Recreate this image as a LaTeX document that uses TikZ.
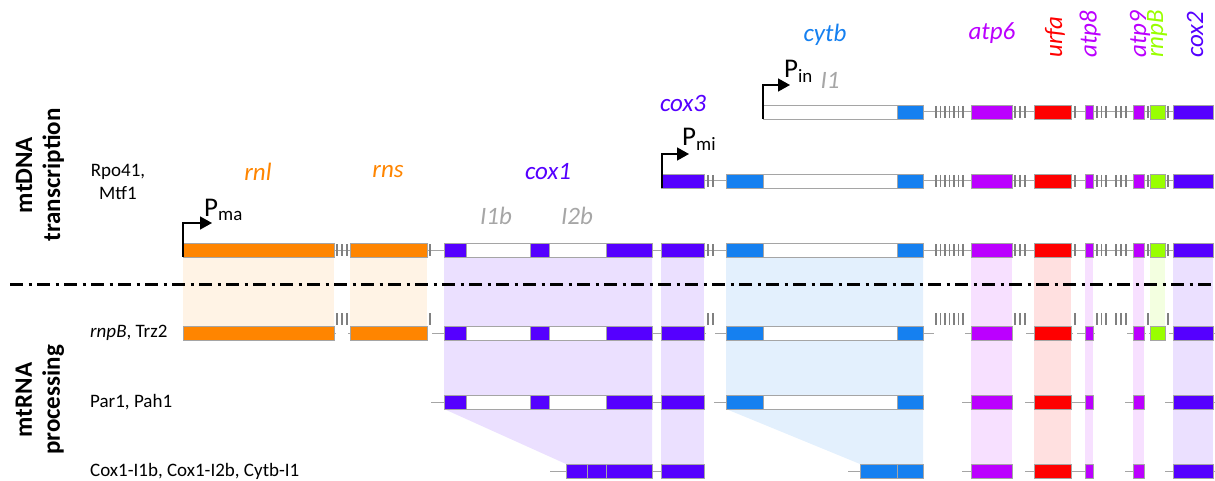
\documentclass[tikz,border=0pt]{standalone}
\usepackage{fontspec}
\setmainfont{Carlito}
\usepackage{xcolor}
\usepackage{tikz}
\usetikzlibrary{arrows.meta}

\definecolor{rrnaorange}{RGB}{255,133,0}
\definecolor{coxviolet}{RGB}{85,0,255}
\definecolor{cytbblue}{RGB}{21,128,240}
\definecolor{atpmagenta}{RGB}{187,0,255}
\definecolor{urfared}{RGB}{255,0,0}
\definecolor{rnpbgreen}{RGB}{153,255,0}
\definecolor{edgegray}{RGB}{165,165,165}
\definecolor{markgray}{RGB}{128,128,128}
\definecolor{introngray}{RGB}{166,166,166}

\begin{document}
\begin{tikzpicture}[x=1pt, y=-1pt,
    exon/.style={draw=edgegray, line width=0.8pt},
    intron/.style={draw=edgegray, fill=white, line width=0.8pt},
    backbone/.style={draw=edgegray, line width=1pt},
    cutmark/.style={draw=markgray, line width=1.8pt},
    separator/.style={line width=3pt, dash pattern=on 13pt off 5.5pt on 3pt off 5.5pt},
    promoter/.style={line width=1.6pt, -{Triangle[length=12pt, width=13pt]}},
    genename/.style={font=\fontsize{25}{30}\selectfont\itshape, inner sep=0pt},
    intronname/.style={genename, text=introngray},
    promname/.style={font=\fontsize{27}{30}\selectfont, inner sep=0pt, anchor=base west},
    factor/.style={font=\fontsize{19}{23}\selectfont, inner sep=0pt, align=center},
    stage/.style={font=\fontsize{25}{28}\selectfont\bfseries, inner sep=0pt, align=center, rotate=90}]

    \useasboundingbox (0,0) rectangle (1215,481);

    % The shaded bands
    \fill[rrnaorange!10] (183,257) rectangle (334,326);
    \fill[rrnaorange!10] (350,257) rectangle (427,326);
    \fill[coxviolet!12] (444,257) -- (652,257) -- (652,464) -- (566,464) -- (444,409) -- cycle;
    \fill[coxviolet!12] (661,257) rectangle (704,464);
    \fill[cytbblue!12] (726,257) -- (923,257) -- (923,464) -- (860,464) -- (726,409) -- cycle;
    \fill[atpmagenta!12] (971,257) rectangle (1012,464);
    \fill[urfared!12] (1034,257) rectangle (1071,464);
    \fill[atpmagenta!12] (1085,257) rectangle (1093,464);
    \fill[atpmagenta!12] (1133,257) rectangle (1144,464);
    \fill[rnpbgreen!12] (1150,257) rectangle (1165,326);
    \fill[coxviolet!12] (1173,257) rectangle (1213,464);

    % The separator
    \draw[separator] (10,284) -- (1215,284);

    % Backbones, rows A to C
    \draw[backbone] (763,112) -- (1213,112);
    \draw[backbone] (661,181) -- (1213,181);
    \draw[backbone] (183,250) -- (1213,250);
    % Backbone pieces, row D
    \foreach \a/\b in {183/336, 348/428, 432/706, 715/934, 965/1013, 1026/1073,
                       1077/1095, 1127/1146, 1149/1166, 1169/1215}
        \draw[backbone] (\a,333) -- (\b,333);
    % Backbone pieces, rows E and F
    \foreach \a/\b in {431/704, 714/923, 962/1012, 1025/1093, 1125/1144, 1165/1215}
        \draw[backbone] (\a,402) -- (\b,402);
    \foreach \a/\b in {550/704, 848/923, 962/1012, 1025/1093, 1125/1144, 1165/1215}
        \draw[backbone] (\a,471) -- (\b,471);

    % Cut marks on the transcripts
    \foreach \y in {112,181,250}
        \foreach \x in {936,940.5,945,949.5,954,958.5,963,1015,1020,1025,1075,
                        1097,1101.5,1106,1116,1121,1126,1148,1168}
            \draw[cutmark] (\x,\y-6) -- (\x,\y+6);
    \foreach \y in {181,250}
        \foreach \x in {708,713}
            \draw[cutmark] (\x,\y-6) -- (\x,\y+6);
    \foreach \x in {337,342,347,430}
        \draw[cutmark] (\x,244) -- (\x,256);
    % Lifted cut marks, row D
    \foreach \x in {337,342,347,430,708,713,936,940.5,945,949.5,954,958.5,963,
                    1015,1020,1025,1075,1097,1101.5,1106,1116,1121,1126,1148,1168}
        \draw[cutmark] (\x,313) -- (\x,325);

    % Right hand genes
    \foreach \y in {112,181,250,333,402,471}
        \foreach \a/\b/\c in {971/1012/atpmagenta, 1034/1071/urfared, 1085/1093/atpmagenta,
                              1133/1144/atpmagenta, 1173/1213/coxviolet}
            \draw[exon, fill=\c] (\a,\y-7) rectangle (\b,\y+7);
    \foreach \y in {112,181,250,333}
        \draw[exon, fill=rnpbgreen] (1150,\y-7) rectangle (1165,\y+7);

    % cytb
    \foreach \y in {181,250,333,402} {
        \draw[exon, fill=cytbblue] (726,\y-7) rectangle (763,\y+7);
        \draw[intron] (763,\y-7) rectangle (897,\y+7);
        \draw[exon, fill=cytbblue] (897,\y-7) rectangle (923,\y+7);
    }
    \draw[intron] (763,105) rectangle (897,119);
    \draw[exon, fill=cytbblue] (897,105) rectangle (923,119);
    \draw[exon, fill=cytbblue] (860,464) rectangle (897,478);
    \draw[exon, fill=cytbblue] (897,464) rectangle (923,478);

    % cox3
    \foreach \y in {181,250,333,402,471}
        \draw[exon, fill=coxviolet] (661,\y-7) rectangle (704,\y+7);

    % cox1
    \foreach \y in {250,333,402} {
        \draw[exon, fill=coxviolet] (444,\y-7) rectangle (466,\y+7);
        \draw[intron] (466,\y-7) rectangle (530,\y+7);
        \draw[exon, fill=coxviolet] (530,\y-7) rectangle (549,\y+7);
        \draw[intron] (549,\y-7) rectangle (606,\y+7);
        \draw[exon, fill=coxviolet] (606,\y-7) rectangle (652,\y+7);
    }
    \draw[exon, fill=coxviolet] (566,464) rectangle (587,478);
    \draw[exon, fill=coxviolet] (587,464) rectangle (606,478);
    \draw[exon, fill=coxviolet] (606,464) rectangle (652,478);

    % rnl and rns
    \foreach \y in {250,333} {
        \draw[exon, fill=rrnaorange] (183,\y-7) rectangle (334,\y+7);
        \draw[exon, fill=rrnaorange] (350,\y-7) rectangle (427,\y+7);
    }

    % Promoters
    \coordinate (pma-base) at (183,257);
    \coordinate (pma-tip) at (212,223);
    \coordinate (pmi-base) at (662,188);
    \coordinate (pmi-tip) at (689,154);
    \coordinate (pin-base) at (763,119);
    \coordinate (pin-tip) at (790,85);
    \draw[promoter] (pma-base) |- (pma-tip);
    \draw[promoter] (pmi-base) |- (pmi-tip);
    \draw[promoter] (pin-base) |- (pin-tip);
    \draw (204,217) node[promname] (pma) {P\textsubscript{ma}};
    \draw (682,146) node[promname] (pmi) {P\textsubscript{mi}};
    \draw (784,78) node[promname] (pin) {P\textsubscript{in}};

    % Gene words
    \draw (258,172) node[genename, text=rrnaorange] (lbl-rnl) {rnl};
    \draw (388,172) node[genename, text=rrnaorange] (lbl-rns) {rns};
    \draw (548,172) node[genename, text=coxviolet] (lbl-cox1) {cox1};
    \draw (496,216) node[intronname] (lbl-i1b) {I1b};
    \draw (577,216) node[intronname] (lbl-i2b) {I2b};
    \draw (683,103) node[genename, text=coxviolet] (lbl-cox3) {cox3};
    \draw (825,35) node[genename, text=cytbblue] (lbl-cytb) {cytb};
    \draw (830,80) node[intronname] (lbl-i1) {I1};
    \draw (992,33) node[genename, text=atpmagenta] (lbl-atp6) {atp6};
    \draw (1055,58) node[genename, rotate=90, anchor=west, text=urfared] (lbl-urfa) {urfa};
    \draw (1090,58) node[genename, rotate=90, anchor=west, text=atpmagenta] (lbl-atp8) {atp8};
    \draw (1140,58) node[genename, rotate=90, anchor=west, text=atpmagenta] (lbl-atp9) {atp9};
    \draw (1157,58) node[genename, rotate=90, anchor=west, text=rnpbgreen] (lbl-rnpb) {rnpB};
    \draw (1195,58) node[genename, rotate=90, anchor=west, text=coxviolet] (lbl-cox2) {cox2};

    % Factors
    \draw (118,182) node[factor] (fac-rpo) {Rpo41,\\Mtf1};
    \draw (90,333) node[factor, anchor=west] (fac-rnpb) {\textit{rnpB}, Trz2};
    \draw (90,402) node[factor, anchor=west] (fac-par) {Par1, Pah1};
    \draw (90,471) node[factor, anchor=west] (fac-cox) {Cox1-I1b, Cox1-I2b, Cytb-I1};

    % Stages
    \draw (40,175) node[stage] (stage-dna) {mtDNA\\transcription};
    \draw (40,400) node[stage] (stage-rna) {mtRNA\\processing};

\end{tikzpicture}
\end{document}
